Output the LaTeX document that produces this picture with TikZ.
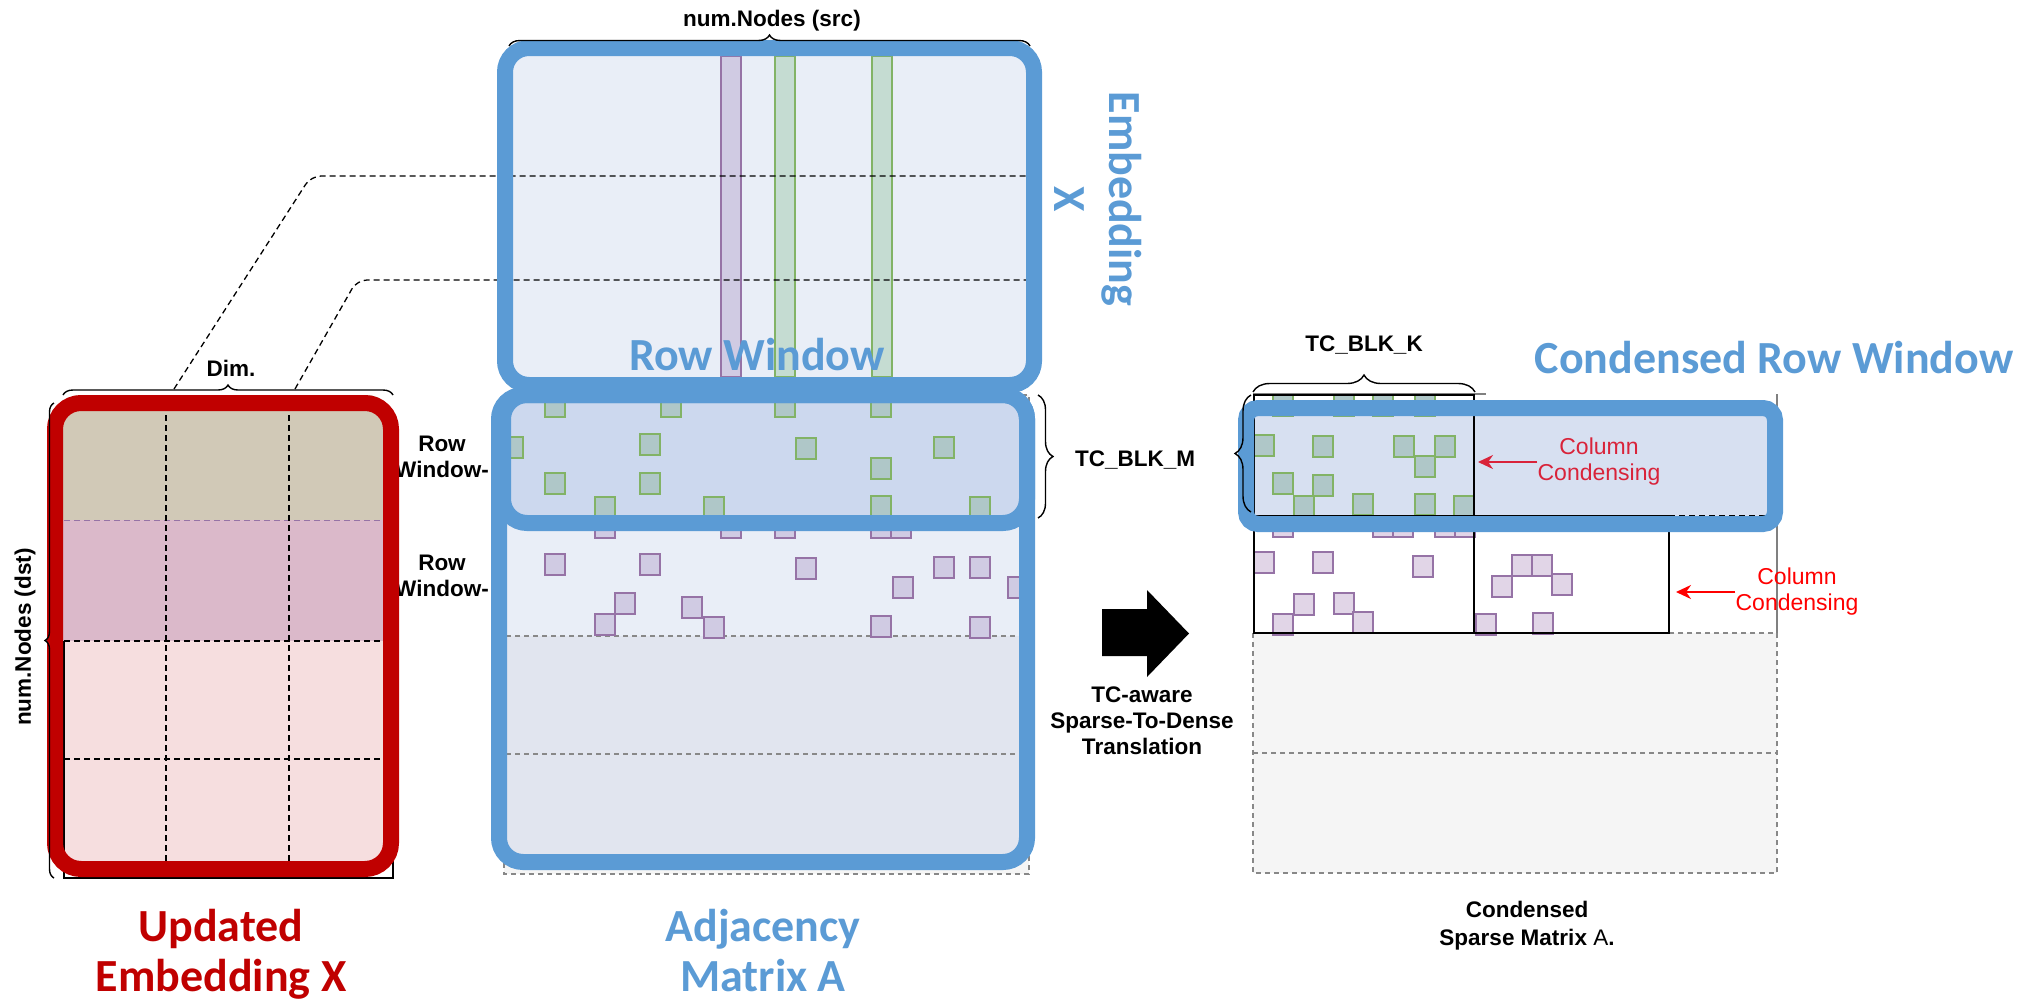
\documentclass[tikz,border=0pt]{standalone}
\usepackage{fontspec}
\setmainfont{Liberation Sans}
\newfontfamily\calib{Carlito}
\usetikzlibrary{arrows.meta,decorations.pathreplacing}

\definecolor{ublue}{HTML}{5B9BD5}
\definecolor{ured}{HTML}{C00000}
\definecolor{paleblue}{HTML}{E9EEF7}
\definecolor{winblue}{HTML}{CCD8EE}
\definecolor{lowblue}{HTML}{E1E5EF}
\definecolor{crwfill}{HTML}{D7E0F1}
\definecolor{tanband}{HTML}{D1C9B7}
\definecolor{mauveband}{HTML}{DBB9CA}
\definecolor{pinkband}{HTML}{F6DEDF}
\definecolor{gline}{HTML}{82B366}
\definecolor{gfill}{HTML}{AFC7C8}
\definecolor{gstripe}{HTML}{C5DCD2}
\definecolor{pline}{HTML}{9673A6}
\definecolor{pfill}{HTML}{D0CBE3}
\definecolor{pfillw}{HTML}{E1D5E7}
\definecolor{grayfill}{HTML}{F5F5F5}
\definecolor{dashgray}{HTML}{888888}
\definecolor{ccred}{HTML}{D9233A}

% one small non-zero cell of a sparse matrix
\newcommand\cellsq[3]{\draw[#1] (#2,#3) rectangle ++(20,21);}

\begin{document}
\begin{tikzpicture}[x=1bp,y=-1bp,
  lbl/.style={font=\bfseries\fontsize{22.5bp}{26bp}\selectfont, inner sep=0pt, align=center, text=black},
  cond/.style={font=\fontsize{23bp}{26bp}\selectfont, inner sep=0pt, align=center},
  big/.style={font=\calib\bfseries\fontsize{46bp}{50bp}\selectfont, inner sep=0pt, align=center},
  bluebox/.style={draw=ublue, line width=16bp, rounded corners=24bp},
  redbox/.style={draw=ured, line width=16bp, rounded corners=26bp},
  gsq/.style={draw=gline, fill=gfill, line width=1.3bp},
  psq/.style={draw=pline, fill=pfill, line width=1.3bp},
  psqw/.style={draw=pline, fill=pfillw, line width=1.3bp},
  blkdash/.style={draw=black, line width=1.3bp, dash pattern=on 6bp off 4bp},
  graydash/.style={draw=dashgray, line width=1.3bp, dash pattern=on 5bp off 4bp},
  bracestyle/.style={draw=black, line width=1.4bp, decorate, decoration={brace, amplitude=#1}},
  redarrow/.style={draw=#1, line width=2bp, -{Stealth[length=15bp,width=14bp]}}
]
\path[use as bounding box] (0,0) rectangle (2031,1006);

% ---------- embedding X (top box) ----------
\fill[paleblue, rounded corners=24bp] (505,48) rectangle (1034,385);
\draw[pline, fill=pfill, line width=1.3bp] (721,56) rectangle (741,377);
\draw[gline, fill=gstripe, line width=1.3bp] (775,56) rectangle (795,377);
\draw[gline, fill=gstripe, line width=1.3bp] (872,56) rectangle (892,377);

\coordinate (dimA) at (174,389);
\coordinate (dimB) at (295,389);
\coordinate (xA) at (1026,176);
\coordinate (xB) at (1026,280);
\draw[blkdash, rounded corners=10bp] (dimA) -- (311,176) -- (xA);
\draw[blkdash, rounded corners=10bp] (dimB) -- (357,280) -- (xB);

\node[big, text=ublue, anchor=base] (rwt) at (757,370) {Row Window};
\draw[bluebox] (505,48) rectangle (1034,385);
\draw[bracestyle=11bp] (509,46) -- (1030,46);
\node[lbl] (srcl) at (772,21) {num.Nodes (src)};
\node[big, text=ublue, rotate=-90, font=\calib\bfseries\fontsize{46bp}{55bp}\selectfont] (embx) at (1098,199) {Embedding\\X};

% ---------- adjacency matrix A ----------
\draw[graydash, fill=grayfill] (504,395) rectangle (1029,874);
\begin{scope}
  \clip[rounded corners=24bp] (499,395) rectangle (1027,862);
  \fill[winblue] (499,395) rectangle (1027,523);
  \fill[paleblue] (499,523) rectangle (1027,636);
  \fill[lowblue] (499,636) rectangle (1027,862);
\end{scope}
\draw[graydash] (506,636) -- (1020,636);
\draw[graydash] (506,754) -- (1020,754);

% non-zeros of row window 1
\foreach \x/\y in {545/396,661/396,775/396,871/396,503/437,640/434,796/438,934/437,
                   871/458,545/473,640/473,595/497,704/497,871/496,970/497}
  {\cellsq{gsq}{\x}{\y}}
% non-zeros of row window 2
\foreach \x/\y in {595/517,721/517,775/517,871/517,891/517,
                   545/554,640/554,796/558,934/557,970/557,893/577,1008/577,
                   615/593,595/614,682/597,704/617,871/616,970/617}
  {\cellsq{psq}{\x}{\y}}

\draw[bluebox] (499,395) rectangle (1027,862);
\draw[bluebox] (503,395) rectangle (1027,523);

\node[big, text=ublue, anchor=north] (adj) at (763,909) {Adjacency\\Matrix A};
\draw[bracestyle=15bp] (1038,395) -- (1038,518);
\node[lbl] (blkm) at (1135,460) {TC\_BLK\_M};

% ---------- updated embedding X ----------
\node[lbl] (rw1) at (442,457) {Row\\Window-};
\node[lbl] (rw2) at (442,576) {Row\\Window-};
\begin{scope}
  \clip[rounded corners=26bp] (55,395) rectangle (393,869);
  \fill[tanband] (55,395) rectangle (393,520);
  \fill[mauveband] (55,520) rectangle (393,641);
  \fill[pinkband] (55,641) rectangle (393,869);
\end{scope}
\draw[black, line width=1.3bp] (64,641) -- (64,878) -- (393,878) -- (393,641);
\draw[draw=pline, line width=1bp, dash pattern=on 6bp off 4bp] (64,520) -- (383,520);
\draw[blkdash] (64,641) -- (383,641);
\draw[blkdash] (64,759) -- (383,759);
\draw[blkdash] (166,395) -- (166,878);
\draw[blkdash] (289,395) -- (289,878);
\draw[redbox] (55,403) rectangle (391,869);
\draw[bracestyle=10bp] (63,395) -- (393,395);
\node[lbl] (diml) at (231,368) {Dim.};
\draw[bracestyle=9bp] (54,878) -- (54,403);
\node[lbl, rotate=90] (dstl) at (25,637) {num.Nodes (dst)};
\node[big, text=ured, anchor=north] (uex) at (221,909) {Updated\\Embedding X};

% ---------- translation arrow ----------
\fill[black] (1102,609) -- (1147,609) -- (1147,590) -- (1189,633.5) -- (1147,677)
  -- (1147,656) -- (1102,656) -- cycle;
\node[lbl] (tcl) at (1142,721) {TC-aware\\Sparse-To-Dense\\Translation};

% ---------- condensed sparse matrix ----------
\draw[graydash, fill=grayfill] (1253,633) rectangle (1777,873);
\draw[graydash] (1253,753) -- (1777,753);
\draw[draw=gray, line width=1.3bp] (1253,394) -- (1486,394);
\draw[draw=gray, line width=1.3bp] (1777,394) -- (1777,633);

\fill[crwfill, rounded corners=12bp] (1246,408) rectangle (1775,524);

\foreach \x/\y in {1273/395,1334/395,1373/395,1415/395,
                   1254/435,1313/436,1394/436,1435/436,1415/456,
                   1273/473,1313/475,1294/496,1353/494,1415/494,1454/496}
  {\cellsq{gsq}{\x}{\y}}
\foreach \x/\y in {1273/516,1373/516,1393/516,1435/516,1455/516,
                   1254/552,1313/552,1413/556,1294/594,1334/593,1273/614,1353/612,
                   1512/555,1532/555,1492/576,1552/574,1476/614,1533/613}
  {\cellsq{psqw}{\x}{\y}}

\draw[black, line width=1.5bp] (1254,395) rectangle (1474,516);
\draw[black, line width=1.5bp] (1254,516) rectangle (1474,633);
\draw[black, line width=1.5bp] (1474,516) rectangle (1669,633);
\draw[blkdash] (1669,516) -- (1767,516);

\draw[draw=ublue, line width=16bp, rounded corners=12bp] (1246,408) rectangle (1775,524);

\node[cond, text=ccred] (cc1) at (1599,462) {Column\\Condensing};
\coordinate (cc1tip) at (1478,462);
\draw[redarrow=ccred] (cc1.west) -- (cc1tip);
\node[cond, text=red] (cc2) at (1797,592) {Column\\Condensing};
\coordinate (cc2tip) at (1676,592);
\draw[redarrow=red] (cc2.west) -- (cc2tip);

\draw[bracestyle=17bp] (1253,392) -- (1475,392);
\node[lbl] (blkk) at (1364,345) {TC\_BLK\_K};
\draw[bracestyle=16bp] (1251,512) -- (1251,395);
\node[big, text=ublue, anchor=base] (crw) at (1774,373) {Condensed Row Window};
\node[lbl, font=\bfseries\fontsize{22.5bp}{28bp}\selectfont] (csm) at (1527,926) {Condensed\\Sparse Matrix $\mathrm{A}$.};
\end{tikzpicture}
\end{document}
